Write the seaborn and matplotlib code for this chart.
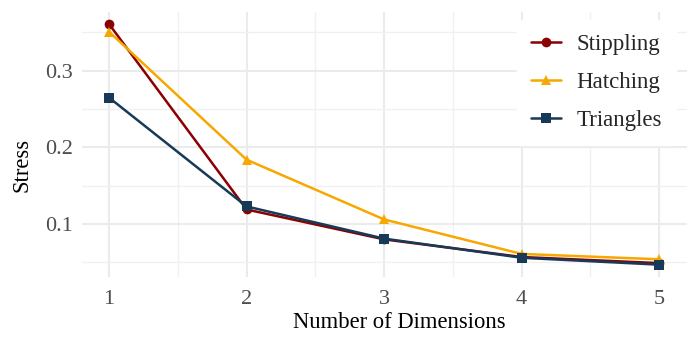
import numpy as np
import pandas as pd
import matplotlib
matplotlib.use("Agg")
import matplotlib.pyplot as plt
import seaborn as sns
from matplotlib.ticker import MultipleLocator

dims = [1, 2, 3, 4, 5]
stippling = [0.361, 0.119, 0.080, 0.057, 0.049]
hatching = [0.351, 0.184, 0.106, 0.061, 0.054]
triangles = [0.265, 0.123, 0.081, 0.056, 0.047]
methods = ["Stippling", "Hatching", "Triangles"]
colors = ["#8B0000", "#F7A800", "#163A57"]
markers = ["o", "^", "s"]

df = pd.DataFrame({
    "Number of Dimensions": dims * 3,
    "Stress": stippling + hatching + triangles,
    "Method": [m for m in methods for _ in dims],
})

sns.set_theme(style="whitegrid")
plt.rcParams["font.family"] = ["Liberation Serif", "DejaVu Serif"]

W, H = 699, 347
fig = plt.figure(figsize=(W / 100, H / 100), dpi=100)
L, R, T, B = 81.5, 686.7, 12, 277
ax = fig.add_axes([L / W, 1 - B / H, (R - L) / W, (B - T) / H])

sns.lineplot(data=df, x="Number of Dimensions", y="Stress", hue="Method",
             style="Method", hue_order=methods, style_order=methods,
             palette=colors, markers=markers, dashes=False, linewidth=1.8,
             markersize=7, markeredgewidth=0, ax=ax)

ax.set_xlim(0.8, 5.2)
ax.set_ylim(0.0309, 0.3767)
ax.xaxis.set_major_locator(MultipleLocator(1))
ax.xaxis.set_minor_locator(MultipleLocator(0.5))
ax.yaxis.set_minor_locator(MultipleLocator(0.05))
ax.set_yticks([0.1, 0.2, 0.3])
ax.set_yticklabels(["0.1", "0.2", "0.3"])
ax.grid(True, which="major", color="#EBEBEB", linewidth=1.5)
ax.grid(True, which="minor", color="#F0F0F0", linewidth=1.0)
ax.set_axisbelow(True)
ax.set_facecolor("white")
for s in ax.spines.values():
    s.set_visible(False)
ax.tick_params(axis="both", which="both", length=0, labelsize=16, labelcolor="#4D4D4D")
ax.tick_params(axis="x", pad=9)
ax.tick_params(axis="y", pad=6)
ax.set_xlabel("")
ax.set_ylabel("")
fig.text(399.5 / W, 1 - 328 / H, "Number of Dimensions", fontsize=16.3, color="black",
         ha="center", va="baseline")
fig.text(27 / W, 1 - 165 / H, "Stress", fontsize=16.3, color="black", rotation=90,
         rotation_mode="anchor", ha="center", va="baseline")

leg = ax.legend(title=None, loc="upper right", fontsize=16.5, frameon=True,
                facecolor="white", edgecolor="white", framealpha=1,
                handlelength=1.3, handletextpad=0.7, labelspacing=0.74,
                borderpad=0.6, borderaxespad=0,
                bbox_to_anchor=(676 / W, 1 - 20 / H), bbox_transform=fig.transFigure)
leg.get_frame().set_boxstyle("square", pad=0)
for h in leg.legend_handles:
    h.set_linewidth(1.8)

fig.savefig("out.png", dpi=100, facecolor="white")
